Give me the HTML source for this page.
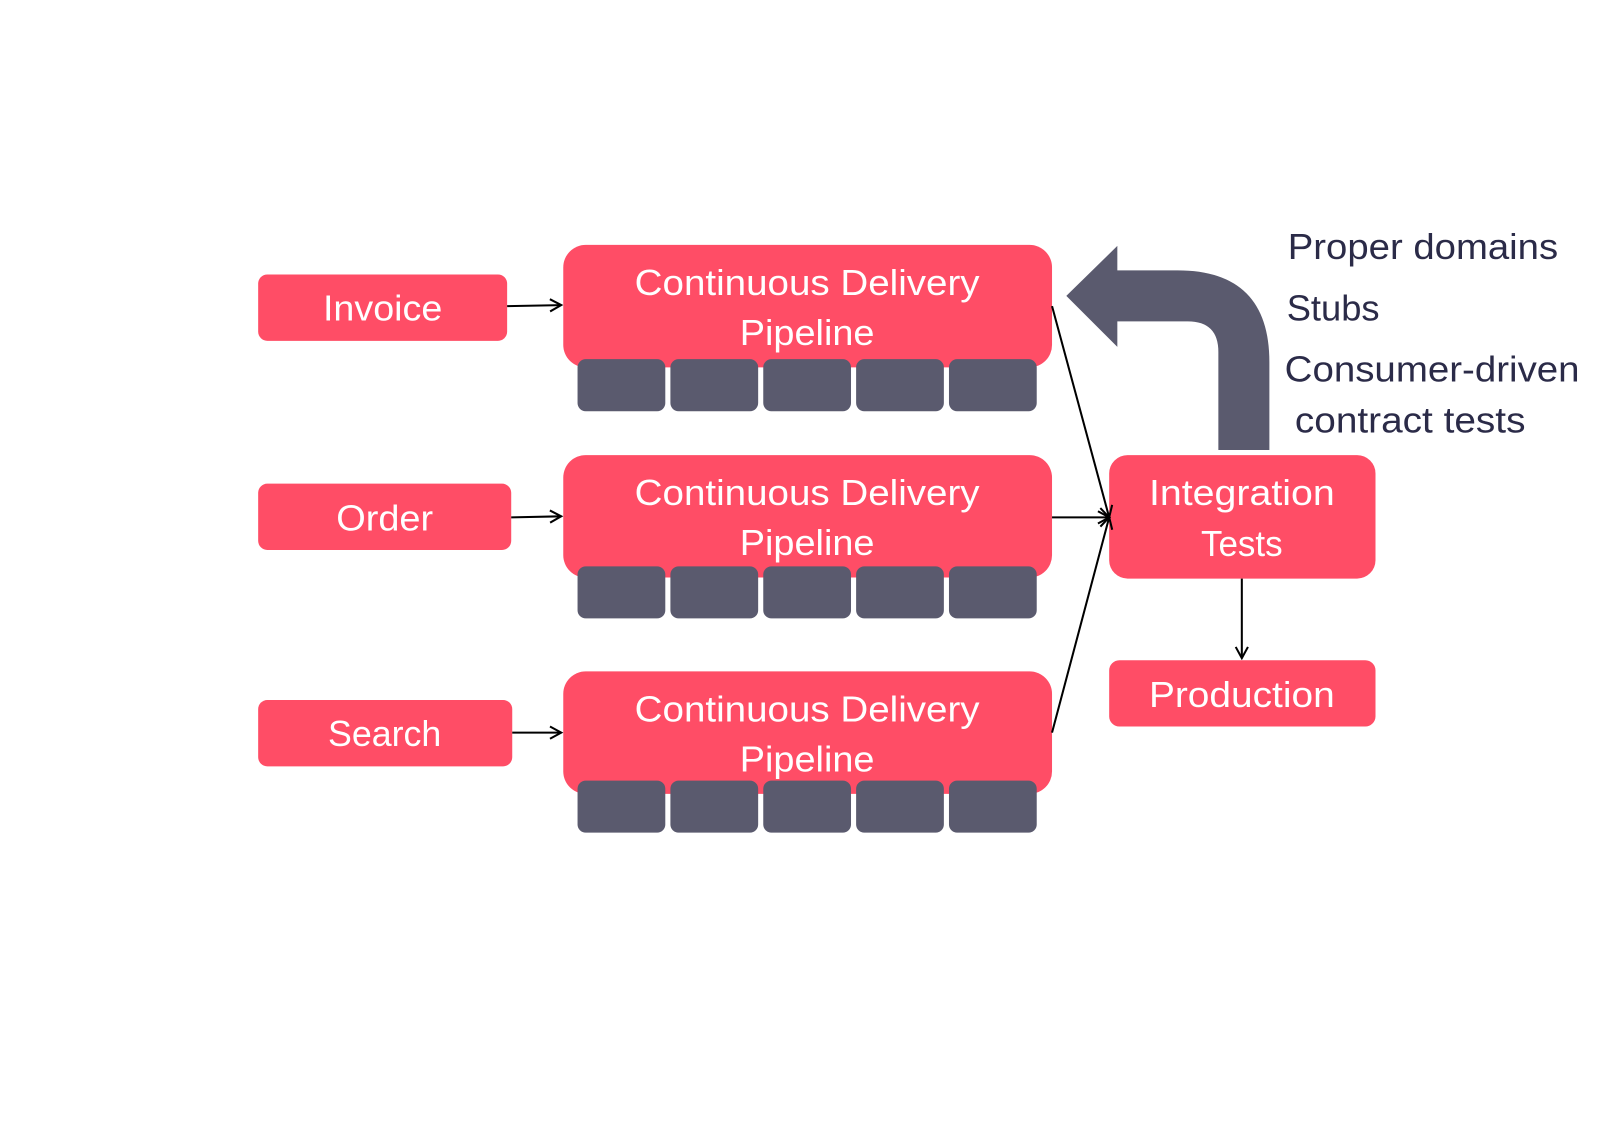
<!DOCTYPE html>
<html><head><style>
body{margin:0;background:#fff;}
svg{display:block;font-family:"Liberation Sans",sans-serif;}
.w{fill:#fff;font-size:35px;text-anchor:middle;}
.d{fill:#2b2b48;font-size:35px;}
</style></head><body>
<svg width="1600" height="1131" viewBox="0 0 1600 1131" xmlns="http://www.w3.org/2000/svg">
<defs><marker id="a" markerWidth="14" markerHeight="14" refX="12" refY="7" orient="auto" markerUnits="userSpaceOnUse"><path d="M1,1 L12,7 L1,13" fill="none" stroke="#000" stroke-width="2"/></marker></defs>
<g transform="scale(1.0204)">
<g fill="#ff4d66">
<rect x="253" y="269" width="244" height="65" rx="9"/>
<rect x="253" y="474" width="248" height="65" rx="9"/>
<rect x="253" y="686" width="249" height="65" rx="9"/>
<rect x="552" y="240" width="479" height="120" rx="22"/>
<rect x="552" y="446" width="479" height="120" rx="22"/>
<rect x="552" y="658" width="479" height="120" rx="22"/>
<rect x="1087" y="446" width="261" height="121" rx="18"/>
<rect x="1087" y="647" width="261" height="65" rx="10"/>
</g>
<g fill="#5a5a6e">
<g id="b"><rect x="566" y="352" width="86" height="51" rx="8"/><rect x="657" y="352" width="86" height="51" rx="8"/><rect x="748" y="352" width="86" height="51" rx="8"/><rect x="839" y="352" width="86" height="51" rx="8"/><rect x="930" y="352" width="86" height="51" rx="8"/></g>
<use href="#b" y="203"/><use href="#b" y="413"/>
<path d="M1194,441 L1194,345 Q1194,315 1164,315 L1095,315 L1095,340 L1045,290 L1095,241 L1095,265 L1154,265 Q1244,265 1244,355 L1244,441 Z"/>
</g>
<g stroke="#000" stroke-width="2" fill="none" marker-end="url(#a)">
<line x1="497" y1="300" x2="550" y2="299"/>
<line x1="501" y1="507" x2="550" y2="506"/>
<line x1="502" y1="718" x2="550" y2="718"/>
<line x1="1031" y1="300" x2="1087" y2="507"/>
<line x1="1031" y1="507" x2="1087" y2="507"/>
<line x1="1031" y1="718" x2="1087" y2="507"/>
<line x1="1217" y1="567" x2="1217" y2="645"/>
</g>
<g lengthAdjust="spacingAndGlyphs">
<text class="w" x="375" y="314" textLength="117" lengthAdjust="spacingAndGlyphs">Invoice</text>
<text class="w" x="377" y="520" textLength="95" lengthAdjust="spacingAndGlyphs">Order</text>
<text class="w" x="377" y="731" textLength="111" lengthAdjust="spacingAndGlyphs">Search</text>
<text class="w" x="791" y="289" textLength="338" lengthAdjust="spacingAndGlyphs">Continuous Delivery</text>
<text class="w" x="791" y="338" textLength="132" lengthAdjust="spacingAndGlyphs">Pipeline</text>
<text class="w" x="791" y="495" textLength="338" lengthAdjust="spacingAndGlyphs">Continuous Delivery</text>
<text class="w" x="791" y="544" textLength="132" lengthAdjust="spacingAndGlyphs">Pipeline</text>
<text class="w" x="791" y="707" textLength="338" lengthAdjust="spacingAndGlyphs">Continuous Delivery</text>
<text class="w" x="791" y="756" textLength="132" lengthAdjust="spacingAndGlyphs">Pipeline</text>
<text class="w" x="1217" y="495" textLength="182" lengthAdjust="spacingAndGlyphs">Integration</text>
<text class="w" x="1217" y="545" textLength="80" lengthAdjust="spacingAndGlyphs">Tests</text>
<text class="w" x="1217" y="693" textLength="182" lengthAdjust="spacingAndGlyphs">Production</text>
<text class="d" x="1262" y="254" textLength="265" lengthAdjust="spacingAndGlyphs">Proper domains</text>
<text class="d" x="1261" y="314" textLength="91" lengthAdjust="spacingAndGlyphs">Stubs</text>
<text class="d" x="1259" y="374" textLength="289" lengthAdjust="spacingAndGlyphs">Consumer-driven</text>
<text class="d" x="1269" y="424" textLength="226" lengthAdjust="spacingAndGlyphs">contract tests</text>
</g>
</g>
</svg>
</body></html>
